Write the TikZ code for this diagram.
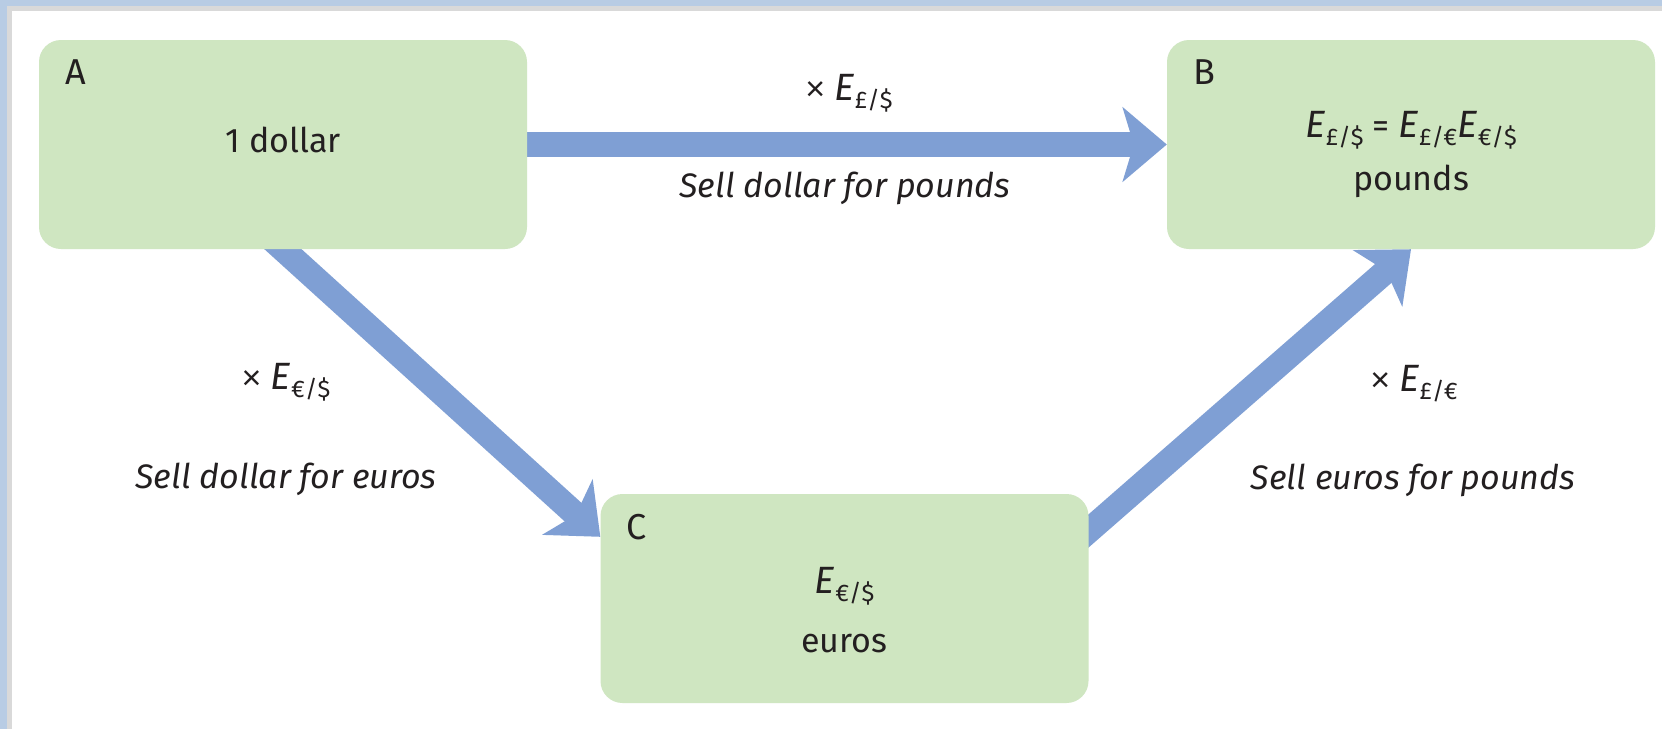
\documentclass[tikz,border=0pt]{standalone}
\usepackage{fontspec}
\setmainfont{Fira Sans}
\newfontfamily\crossfont{Liberation Sans}
\usetikzlibrary{arrows.meta,calc}
\definecolor{boxgreen}{RGB}{207,230,193}
\definecolor{arrowblue}{RGB}{127,159,212}
\definecolor{frameblue}{RGB}{184,204,228}
\definecolor{framegray}{RGB}{217,217,217}
\definecolor{txt}{RGB}{35,31,32}
\newcommand{\Erate}[1]{{\fontsize{38}{40}\selectfont\textit{E}}\kern0.5pt\raisebox{-8pt}{\fontsize{24}{24}\selectfont #1}}
\newcommand{\timessign}{{\crossfont\fontsize{34}{40}\selectfont ×}}
\pgfdeclarelayer{bg}
\pgfdeclarelayer{arr}
\pgfsetlayers{bg,arr,main}
\begin{document}
\begin{tikzpicture}[x=1pt,y=-1pt,
  stagebox/.style={fill=boxgreen, rounded corners=22pt, minimum width=488pt, minimum height=209pt, inner sep=0pt},
  lbl/.style={text=txt, font=\fontsize{34}{40}\selectfont, inner sep=0pt},
  flow/.style={draw=arrowblue, line width=25pt, -{Stealth[length=44pt,width=74pt,inset=11pt]}},
]
\begin{pgfonlayer}{bg}
\fill[white] (0,0) rectangle (1662,729);
\fill[framegray] (0,0) rectangle (1662,11);
\fill[framegray] (0,0) rectangle (12,729);
\fill[frameblue] (0,0) rectangle (1662,6);
\fill[frameblue] (0,0) rectangle (7,729);
\end{pgfonlayer}
\useasboundingbox (0,0) rectangle (1662,729);

\node[stagebox] (A) at (283,144.5) {};
\node[stagebox] (B) at (1411,144.5) {};
\node[stagebox] (C) at (844.5,598.5) {};

\node[lbl, anchor=base west, font=\fontsize{36}{40}\selectfont] (Atag) at ($(A.north west)+(26,45)$) {A};
\node[lbl, anchor=base west, font=\fontsize{36}{40}\selectfont] (Btag) at ($(B.north west)+(26,45)$) {B};
\node[lbl, anchor=base west, font=\fontsize{36}{40}\selectfont] (Ctag) at ($(C.north west)+(26,46)$) {C};

\node[lbl, anchor=base] (Atxt) at ($(A.north)+(0,113)$) {1 dollar};
\node[lbl, anchor=base] (Beq) at ($(B.north)+(0,98)$) {\Erate{£/\$} = \Erate{£/€}\Erate{€/\$}};
\node[lbl, anchor=base] (Btxt) at ($(B.north)+(0,151)$) {pounds};
\node[lbl, anchor=base] (Ceq) at ($(C.north)+(0,100)$) {\Erate{€/\$}};
\node[lbl, anchor=base] (Ctxt) at ($(C.north)+(0,159)$) {euros};

\coordinate (Cin) at ($(C.north west)+(0,43)$);
\coordinate (Cout) at ($(C.north east)+(0,37)$);
\begin{pgfonlayer}{arr}
\draw[flow] (A.center) -- (B.west);
\draw[flow] ($(A.south)!-0.15!(Cin)$) -- (Cin);
\draw[flow] ($(Cout)!-0.15!(B.south)$) -- (B.south);
\end{pgfonlayer}

\node[lbl, anchor=base] (ab1) at (849,100) {\timessign\ \Erate{£/\$}};
\node[lbl, anchor=base] (ab2) at (845,197) {\itshape Sell dollar for pounds};
\node[lbl, anchor=base] (ac1) at (286,389) {\timessign\ \Erate{€/\$}};
\node[lbl, anchor=base] (ac2) at (286,488) {\itshape Sell dollar for euros};
\node[lbl, anchor=base] (cb1) at (1414,391) {\timessign\ \Erate{£/€}};
\node[lbl, anchor=base] (cb2) at (1413,489) {\itshape Sell euros for pounds};
\end{tikzpicture}
\end{document}
